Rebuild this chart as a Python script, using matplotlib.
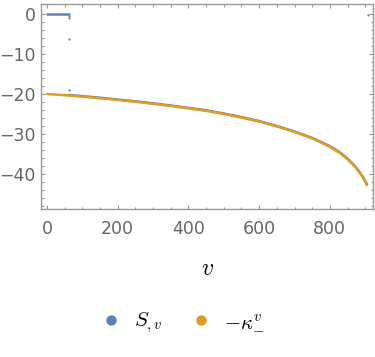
import numpy as np
import matplotlib
matplotlib.use("Agg")
import matplotlib.pyplot as plt
from matplotlib.lines import Line2D

plt.rcParams['font.family'] = 'DejaVu Sans'
plt.rcParams['mathtext.fontset'] = 'cm'

# -kappa curve (orange)
v_kappa = [0, 50, 100, 150, 200, 250, 300, 350, 400, 450, 500, 550, 600, 650,
           700, 750, 800, 829, 850, 871, 880, 890, 897, 905]
kappa = [-20.0, -20.3, -20.65, -21.05, -21.5, -21.95, -22.45, -23.0, -23.6,
         -24.2, -25.0, -25.9, -26.9, -28.1, -29.5, -31.1, -33.2, -34.8, -36.3,
         -38.2, -39.2, -40.4, -41.4, -42.8]

# S_,v (blue): flat part, stray points, then riding just above the orange curve
v_flat = [0, 62]
s_flat = [0.0, 0.0]
v_stray = [62, 62, 62, 62, 908]
s_stray = [-0.4, -0.9, -6.3, -19.1, -0.2]
v_s = [62, 100, 150, 200, 250, 300, 350, 400, 450, 500, 550, 600, 650,
       700, 750, 800, 829, 850, 871, 880, 890, 897, 905]
s_v = [-20.25, -20.53, -20.93, -21.38, -21.83, -22.33, -22.88, -23.48,
       -24.08, -24.88, -25.78, -26.78, -27.98, -29.38, -30.98, -33.05, -34.65,
       -36.15, -38.05, -39.05, -40.25, -41.25, -42.65]

blue = '#5E81B5'
orange = '#E19C24'
grey = '#999999'
lab = '#666666'

fig = plt.figure(figsize=(3.75, 3.57), dpi=100)
ax = fig.add_axes([41/375, 1-209/357, (373-41)/375, (209-4)/357])

ax.plot(v_flat, s_flat, color=blue, lw=1.8, solid_capstyle='round')
ax.plot(v_s, s_v, color=blue, lw=1.8, solid_capstyle='round')
ax.plot(v_stray, s_stray, 'o', color=blue, ms=1.6, mew=0)
ax.plot(v_kappa, kappa, color=orange, lw=1.8, solid_capstyle='round')

ax.set_xlim(-17, 922)
ax.set_ylim(-48.75, 2.5)
ax.set_xticks([0, 200, 400, 600, 800])
ax.set_xticks(np.arange(0, 901, 50), minor=True)
ax.set_yticks([0, -10, -20, -30, -40])
ax.set_yticks(np.arange(-48, 1, 2), minor=True)
ax.set_yticklabels(['0', '\u221210', '\u221220', '\u221230', '\u221240'])

for s in ax.spines.values():
    s.set_color(grey)
    s.set_linewidth(1.0)
ax.tick_params(which='both', direction='in', top=True, right=True,
               color=grey, width=0.8)
ax.tick_params(which='major', length=3.0)
ax.tick_params(which='minor', length=1.8)
ax.tick_params(axis='x', which='major', pad=8, labelsize=12.5, labelcolor=lab)
ax.tick_params(axis='y', which='major', pad=4, labelsize=12.5, labelcolor=lab)

fig.text(207/375, 1-268/357, r'$v$', fontsize=17, ha='center', va='center')

handles = [Line2D([], [], marker='o', ls='none', color=blue, ms=6.5),
           Line2D([], [], marker='o', ls='none', color=orange, ms=6.5)]
fig.legend(handles, [r'$S_{,v}$', r'$-\kappa_{-}^{v}$'], loc='center',
           bbox_to_anchor=(0.487, 1-323/357), ncol=2, frameon=False,
           fontsize=15, handlelength=1.0, handletextpad=0.6, columnspacing=1.35)

fig.savefig('out.png', dpi=100)
